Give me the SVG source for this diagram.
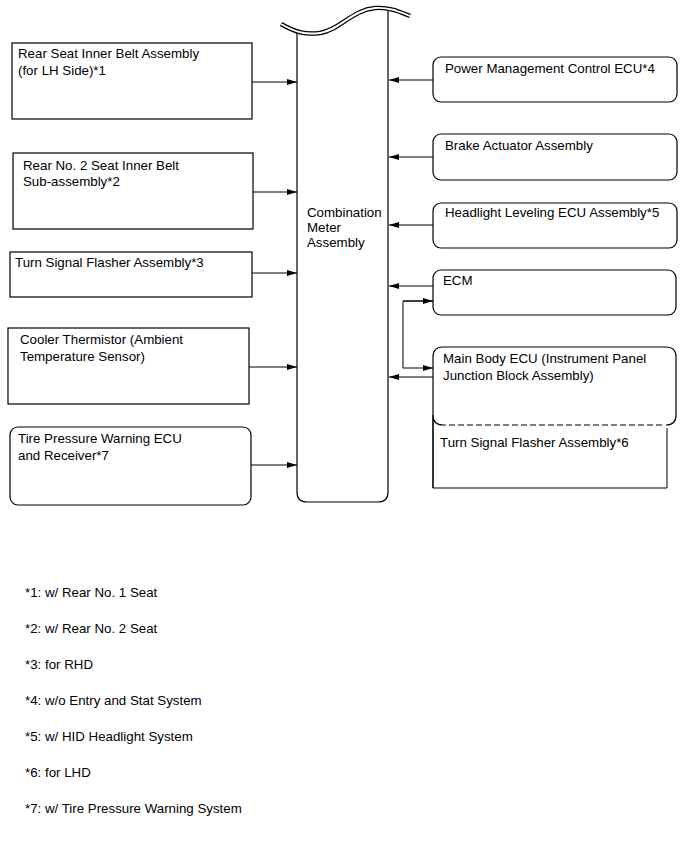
<svg xmlns="http://www.w3.org/2000/svg" width="689" height="853" viewBox="0 0 689 853">
<style>
text{font-family:"Liberation Sans",Arial,sans-serif;font-size:13.3px;fill:#000}
.b{fill:#fff;stroke:#000;stroke-width:1.2}
.l{fill:none;stroke:#000;stroke-width:1}
</style>
<defs>
<marker id="ah" viewBox="0 0 10 6" refX="10" refY="3" markerWidth="10" markerHeight="6" markerUnits="userSpaceOnUse" orient="auto">
<path d="M0,0 L10,3 L0,6 Z" fill="#000"/>
</marker>
</defs>
<rect width="689" height="853" fill="#fff"/>
<g id="meter">
<path class="b" d="M297,30 V492 Q297,502 307,502 H378 Q388,502 388,492 V10"/>
<path d="M281,24 C295,32 305,35 320,33 C340,30 352,10 375,8 C390,7 400,12 410,16" fill="none" stroke="#000" stroke-width="4.5"/>
<path d="M281,24 C295,32 305,35 320,33 C340,30 352,10 375,8 C390,7 400,12 410,16" fill="none" stroke="#fff" stroke-width="2"/>
<text x="307" y="217">Combination</text>
<text x="307" y="232">Meter</text>
<text x="307" y="247">Assembly</text>
</g>
<g id="rear-seat-belt">
<rect class="b" x="12" y="43" width="240" height="76"/>
<text x="18" y="58">Rear Seat Inner Belt Assembly</text>
<text x="18" y="75">(for LH Side)*1</text>
</g>
<g id="rear-no2-belt">
<rect class="b" x="13" y="153" width="240" height="76"/>
<text x="23" y="170">Rear No. 2 Seat Inner Belt</text>
<text x="23" y="186">Sub-assembly*2</text>
</g>
<g id="turn-signal-rhd">
<rect class="b" x="10" y="252" width="242" height="45"/>
<text x="15" y="267">Turn Signal Flasher Assembly*3</text>
</g>
<g id="cooler-thermistor">
<rect class="b" x="8" y="328" width="241" height="76"/>
<text x="20" y="344">Cooler Thermistor (Ambient</text>
<text x="20" y="361">Temperature Sensor)</text>
</g>
<g id="tire-pressure">
<rect class="b" x="10" y="427" width="241" height="78" rx="8"/>
<text x="18" y="443">Tire Pressure Warning ECU</text>
<text x="18" y="460">and Receiver*7</text>
</g>
<g id="power-mgmt">
<rect class="b" x="433" y="57" width="244" height="45" rx="8"/>
<text x="445" y="73">Power Management Control ECU*4</text>
</g>
<g id="brake">
<rect class="b" x="433" y="134" width="244" height="46" rx="8"/>
<text x="445" y="150">Brake Actuator Assembly</text>
</g>
<g id="headlight">
<rect class="b" x="433" y="203" width="244" height="45" rx="8"/>
<text x="445" y="217">Headlight Leveling ECU Assembly*5</text>
</g>
<g id="ecm">
<rect class="b" x="433" y="270" width="243" height="45" rx="8"/>
<text x="443" y="285">ECM</text>
</g>
<g id="main-body">
<path class="b" d="M433,488 V357 Q433,347 443,347 H666 Q676,347 676,357 V415 Q676,425 666,425 H443 Q433,425 433,415"/>
<path class="l" d="M433,415 V488 H667 V428" stroke-width="1.2"/>
<path d="M666,425 H443" stroke="#fff" stroke-width="2"/>
<path d="M662,425 H443" stroke="#000" stroke-width="1.2" stroke-dasharray="6,3"/>
<text x="443" y="363">Main Body ECU (Instrument Panel</text>
<text x="443" y="380">Junction Block Assembly)</text>
<text x="440" y="447">Turn Signal Flasher Assembly*6</text>
</g>
<g id="connectors" class="l">
<path class="l" d="M252,82 H297" marker-end="url(#ah)"/>
<path class="l" d="M253,192 H297" marker-end="url(#ah)"/>
<path class="l" d="M252,273 H297" marker-end="url(#ah)"/>
<path class="l" d="M249,367 H297" marker-end="url(#ah)"/>
<path class="l" d="M251,465 H297" marker-end="url(#ah)"/>
<path class="l" d="M433,80 H389" marker-end="url(#ah)"/>
<path class="l" d="M433,157 H389" marker-end="url(#ah)"/>
<path class="l" d="M433,225 H389" marker-end="url(#ah)"/>
<path class="l" d="M433,286 H389" marker-end="url(#ah)"/>
<path class="l" d="M433,377 H389" marker-end="url(#ah)"/>
<path class="l" d="M433,301 H403 V368 H433" marker-end="url(#ah)"/>
<path class="l" d="M403,301 H433" marker-end="url(#ah)"/>
</g>
<g id="notes">
<text x="25" y="597">*1: w/ Rear No. 1 Seat</text>
<text x="25" y="633">*2: w/ Rear No. 2 Seat</text>
<text x="25" y="669">*3: for RHD</text>
<text x="25" y="705">*4: w/o Entry and Stat System</text>
<text x="25" y="741">*5: w/ HID Headlight System</text>
<text x="25" y="777">*6: for LHD</text>
<text x="25" y="813">*7: w/ Tire Pressure Warning System</text>
</g>
</svg>
